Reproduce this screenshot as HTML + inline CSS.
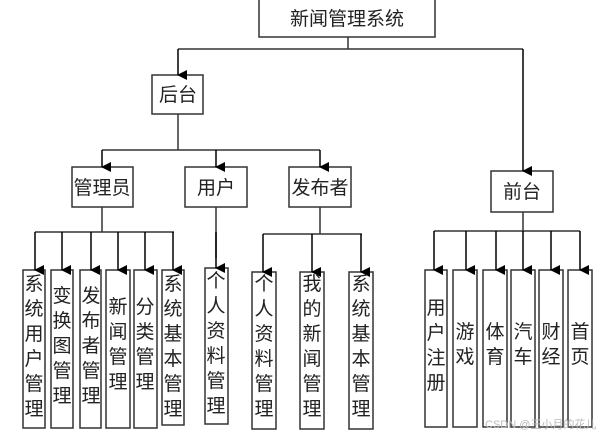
<!DOCTYPE html>
<html><head><meta charset="utf-8"><style>
body{margin:0;background:#fff;}
svg{display:block;font-family:"Liberation Sans","Noto Sans CJK SC",sans-serif;}
text{font-size:19px;fill:#222;}
</style></head><body>
<svg width="604" height="435" viewBox="0 0 604 435">
<defs><marker id="a" markerWidth="10" markerHeight="10" refX="5" refY="9" orient="auto" markerUnits="userSpaceOnUse"><path d="M0,0 L10,0 L5,10 Z" fill="#000"/></marker></defs>
<g stroke="#333" stroke-width="1.5" fill="none">
<rect x="259" y="-1" width="176" height="38"/>
<rect x="152" y="75" width="51" height="39"/>
<rect x="491" y="171" width="62" height="41"/>
<rect x="72" y="167" width="61" height="40"/>
<rect x="185" y="167" width="62" height="40"/>
<rect x="289" y="167" width="62" height="40"/>
<rect x="23" y="270" width="22" height="158"/>
<rect x="51" y="270" width="22" height="158"/>
<rect x="80" y="270" width="21" height="158"/>
<rect x="106" y="270" width="24" height="158"/>
<rect x="134" y="270" width="23" height="158"/>
<rect x="162" y="270" width="22" height="155"/>
<rect x="205" y="268" width="23" height="156"/>
<rect x="252" y="272" width="24" height="157"/>
<rect x="300" y="272" width="24" height="157"/>
<rect x="349" y="272" width="24" height="157"/>
<rect x="425" y="270" width="22" height="157"/>
<rect x="453" y="270" width="24" height="157"/>
<rect x="483" y="270" width="24" height="157"/>
<rect x="511" y="270" width="24" height="157"/>
<rect x="539" y="270" width="24" height="157"/>
<rect x="568" y="270" width="24" height="157"/>
<path d="M348 37V49M178 49H523M178 114V150M102 150H320M102 207V232M35 232H174M216 207V258M320 207V234M263 234H362M523 212V231M434 231H580"/>
</g>
<g stroke="#000" stroke-width="1.5" marker-end="url(#a)">
<line x1="178" y1="49" x2="178" y2="75"/><line x1="523" y1="49" x2="523" y2="171"/>
<line x1="102" y1="150" x2="102" y2="167"/><line x1="216" y1="150" x2="216" y2="167"/><line x1="320" y1="150" x2="320" y2="167"/>
<line x1="35" y1="232" x2="35" y2="270"/><line x1="62" y1="232" x2="62" y2="270"/><line x1="91" y1="232" x2="91" y2="270"/><line x1="118" y1="232" x2="118" y2="270"/><line x1="145" y1="232" x2="145" y2="270"/><line x1="173" y1="232" x2="173" y2="270"/>
<line x1="216" y1="232" x2="216" y2="268"/>
<line x1="263" y1="234" x2="263" y2="272"/><line x1="312" y1="234" x2="312" y2="272"/><line x1="361" y1="234" x2="361" y2="272"/>
<line x1="434" y1="231" x2="434" y2="270"/><line x1="466" y1="231" x2="466" y2="270"/><line x1="496" y1="231" x2="496" y2="270"/><line x1="523" y1="231" x2="523" y2="270"/><line x1="551" y1="231" x2="551" y2="270"/><line x1="580" y1="231" x2="580" y2="270"/>
</g>
<g text-anchor="middle">
<text x="347" y="25">新闻管理系统</text>
<text x="178" y="101">后台</text>
<text x="522" y="198">前台</text>
<text x="102" y="194">管理员</text>
<text x="216" y="194">用户</text>
<text x="320" y="194">发布者</text>
</g>
<g text-anchor="middle" font-size="19">
<text x="34"><tspan x="34" y="290">系</tspan><tspan x="34" y="315">统</tspan><tspan x="34" y="340">用</tspan><tspan x="34" y="365">户</tspan><tspan x="34" y="390">管</tspan><tspan x="34" y="415">理</tspan></text>
<text x="62"><tspan x="62" y="302">变</tspan><tspan x="62" y="327">换</tspan><tspan x="62" y="352">图</tspan><tspan x="62" y="377">管</tspan><tspan x="62" y="402">理</tspan></text>
<text x="91"><tspan x="91" y="302">发</tspan><tspan x="91" y="327">布</tspan><tspan x="91" y="352">者</tspan><tspan x="91" y="377">管</tspan><tspan x="91" y="402">理</tspan></text>
<text x="118"><tspan x="118" y="313">新</tspan><tspan x="118" y="338">闻</tspan><tspan x="118" y="363">管</tspan><tspan x="118" y="388">理</tspan></text>
<text x="145"><tspan x="145" y="313">分</tspan><tspan x="145" y="338">类</tspan><tspan x="145" y="363">管</tspan><tspan x="145" y="388">理</tspan></text>
<text x="173"><tspan x="173" y="290">系</tspan><tspan x="173" y="315">统</tspan><tspan x="173" y="340">基</tspan><tspan x="173" y="365">本</tspan><tspan x="173" y="390">管</tspan><tspan x="173" y="415">理</tspan></text>
<text x="216"><tspan x="216" y="287">个</tspan><tspan x="216" y="312">人</tspan><tspan x="216" y="337">资</tspan><tspan x="216" y="362">料</tspan><tspan x="216" y="387">管</tspan><tspan x="216" y="412">理</tspan></text>
<text x="264"><tspan x="264" y="290">个</tspan><tspan x="264" y="315">人</tspan><tspan x="264" y="340">资</tspan><tspan x="264" y="365">料</tspan><tspan x="264" y="390">管</tspan><tspan x="264" y="415">理</tspan></text>
<text x="312"><tspan x="312" y="290">我</tspan><tspan x="312" y="315">的</tspan><tspan x="312" y="340">新</tspan><tspan x="312" y="365">闻</tspan><tspan x="312" y="390">管</tspan><tspan x="312" y="415">理</tspan></text>
<text x="361"><tspan x="361" y="290">系</tspan><tspan x="361" y="315">统</tspan><tspan x="361" y="340">基</tspan><tspan x="361" y="365">本</tspan><tspan x="361" y="390">管</tspan><tspan x="361" y="415">理</tspan></text>
<text x="436"><tspan x="436" y="314">用</tspan><tspan x="436" y="339">户</tspan><tspan x="436" y="364">注</tspan><tspan x="436" y="389">册</tspan></text>
<text x="465"><tspan x="465" y="338">游</tspan><tspan x="465" y="363">戏</tspan></text>
<text x="495"><tspan x="495" y="338">体</tspan><tspan x="495" y="363">育</tspan></text>
<text x="523"><tspan x="523" y="338">汽</tspan><tspan x="523" y="363">车</tspan></text>
<text x="551"><tspan x="551" y="338">财</tspan><tspan x="551" y="363">经</tspan></text>
<text x="580"><tspan x="580" y="338">首</tspan><tspan x="580" y="363">页</tspan></text>
</g>
<text x="485" y="428" style="font-size:11px;fill:#bbb">CSDN @王小月的花儿</text>
</svg>
</body></html>
